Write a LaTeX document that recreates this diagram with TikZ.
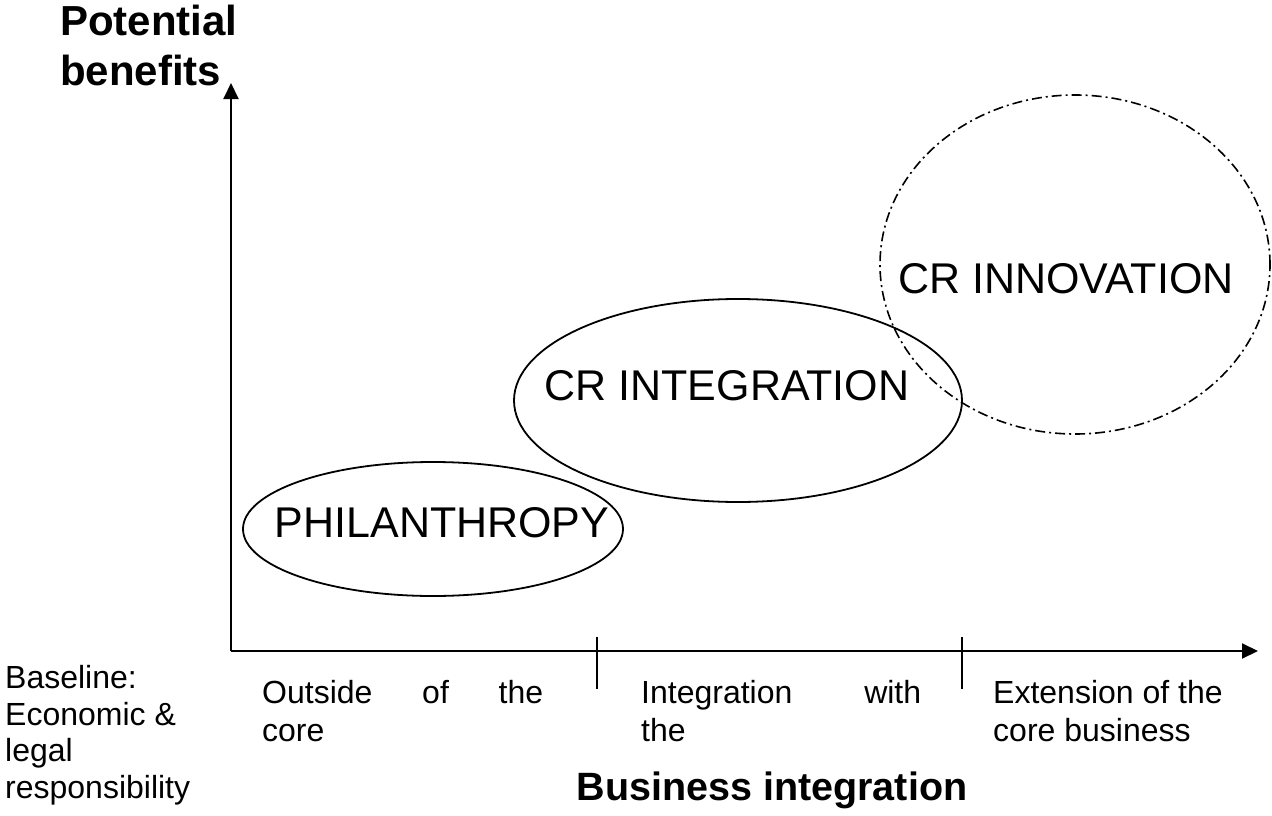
\documentclass[tikz,border=0pt]{standalone}
\usepackage{fontspec}
\setmainfont{Liberation Sans}
\usetikzlibrary{arrows.meta,shapes.geometric}
\begin{document}
\begin{tikzpicture}[x=1pt,y=-1pt,
  axisline/.style={line width=2pt,-{Triangle[length=16pt,width=15pt]}},
  tickmark/.style={line width=1.5pt},
  blob/.style={ellipse,draw,line width=1.8pt,inner sep=0pt},
  dashblob/.style={ellipse,draw,line width=1.6pt,inner sep=0pt,dash pattern=on 10pt off 4pt on 2pt off 4pt},
  bigtxt/.style={font=\fontsize{43}{50}\selectfont,inner sep=0pt,anchor=base},
  titletxt/.style={font=\fontsize{42}{50}\selectfont\bfseries,inner sep=0pt},
  smalltxt/.style={font=\fontsize{32}{38.5}\selectfont,inner sep=0pt,anchor=north west,align=left}]
\useasboundingbox (0,0) rectangle (1272,816);
% axes
\coordinate (origin) at (231,651);
\coordinate (ytip) at (231,83);
\coordinate (xtip) at (1258,651);
\draw[axisline] (origin) -- (ytip);
\draw[axisline] (origin) -- (xtip);
% ticks
\coordinate (t1a) at (597,637);
\coordinate (t1b) at (597,689);
\coordinate (t2a) at (962,637);
\coordinate (t2b) at (962,689);
\draw[tickmark] (t1a) -- (t1b);
\draw[tickmark] (t2a) -- (t2b);
% ellipses
\node[blob,minimum width=380pt,minimum height=134pt] (phil) at (433,529) {};
\node[blob,minimum width=448pt,minimum height=203pt] (integ) at (738,400.5) {};
\node[dashblob,minimum width=390pt,minimum height=339pt] (innov) at (1075,264.5) {};
\node[bigtxt] (philtxt) at (442,537) {PHILANTHROPY};
\node[bigtxt] (integtxt) at (727,400) {CR INTEGRATION};
\node[bigtxt] (innovtxt) at (1066,293) {CR INNOVATION};
% titles
\node[titletxt,anchor=north west,align=left] (ylabel) at (60,5) {Potential\\benefits};
\node[titletxt,anchor=base,font=\fontsize{39.5}{48}\selectfont\bfseries] (xlabel) at (772,800) {Business integration};
% bottom labels
\node[smalltxt,font=\fontsize{32}{36.7}\selectfont] (baseline) at (5,665) {Baseline:\\Economic \&\\legal\\responsibility};
\node[smalltxt,text width=281pt] (outside) at (262,680) {Outside\hfill of\hfill the\\core};
\node[smalltxt,text width=280pt] (within) at (641,680) {Integration\hfill with\\the};
\node[smalltxt] (extension) at (993,680) {Extension of the\\core business};
\end{tikzpicture}
\end{document}
